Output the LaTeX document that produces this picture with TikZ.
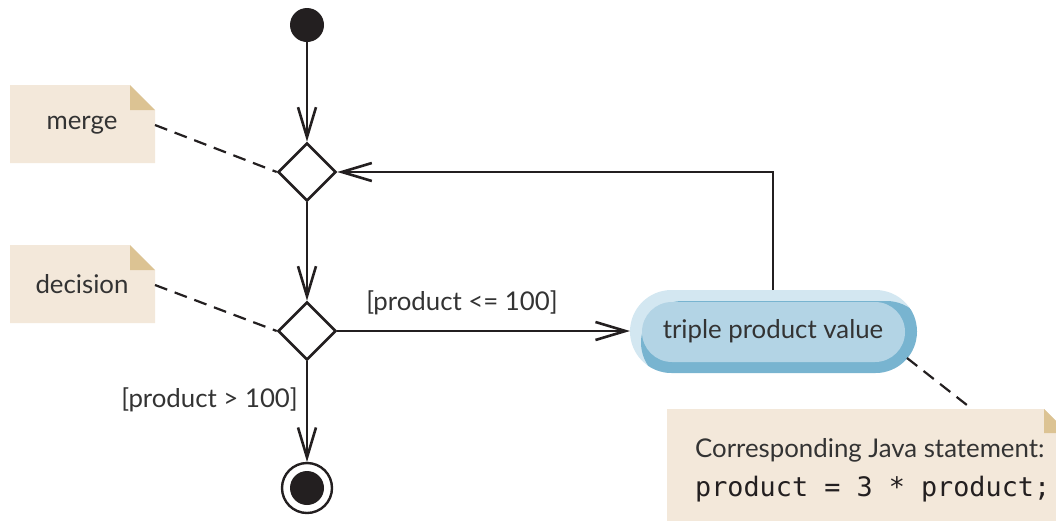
\documentclass[tikz,border=0pt]{standalone}
\usepackage{fontspec}
\setmainfont{Lato}
\newfontfamily\codefont{DejaVu Sans Mono}
\usetikzlibrary{arrows.meta,shapes.geometric}
\definecolor{ink}{HTML}{231F20}
\definecolor{txt}{HTML}{333333}
\definecolor{notebg}{HTML}{F3E8DA}
\definecolor{notefold}{HTML}{DCC393}
\definecolor{pilllight}{HTML}{D3E7F1}
\definecolor{pilldark}{HTML}{78B4D0}
\definecolor{pillmid}{HTML}{B3D4E5}
\tikzset{
  flow/.style={line width=2.6pt, draw=ink},
  arr/.style={flow, -{Straight Barb[length=30pt,width=18pt,line width=2.6pt]}},
  anno/.style={line width=2.2pt, draw=ink, dash pattern=on 13pt off 8pt},
  dia/.style={diamond, draw=ink, line width=2.6pt, minimum width=58pt, minimum height=58pt, inner sep=0pt},
  lbl/.style={font=\fontsize{25.8}{30}\selectfont, text=txt, inner sep=0pt},
}
\begin{document}
\begin{tikzpicture}[x=1pt,y=-1pt]
\useasboundingbox (0,0) rectangle (1056,520);
\clip (0,0) rectangle (1056,520);
% notes
\fill[notebg] (10,85) -- (130,85) -- (155,110) -- (155,163) -- (10,163) -- cycle;
\fill[notefold] (130,85) -- (155,110) -- (130,110) -- cycle;
\node[lbl] (merge) at (82,125) {merge};
\coordinate (mergeR) at (155,125);
\fill[notebg] (10,245) -- (130,245) -- (155,270) -- (155,323) -- (10,323) -- cycle;
\fill[notefold] (130,245) -- (155,270) -- (130,270) -- cycle;
\node[lbl] (decision) at (82,284) {decision};
\coordinate (decR) at (155,285);
\fill[notebg] (667,409) -- (1044,409) -- (1068,433) -- (1068,530) -- (667,530) -- cycle;
\fill[notefold] (1044,409) -- (1068,433) -- (1044,433) -- cycle;
\node[lbl, anchor=base west] (java1) at (695,457) {Corresponding Java statement:};
\node[font=\codefont\fontsize{26.8}{30}\selectfont, text=ink, inner sep=0pt, anchor=base west] (java2) at (695,496) {product = 3 * product;};
\coordinate (javaT) at (972,409);
% start, diamonds, end
\fill[ink] (307,25) circle (17);
\coordinate (startB) at (307,42);
\node[dia] (mg) at (307,172) {};
\node[dia] (dc) at (307,331) {};
\draw[ink, line width=2.4pt] (307,488) circle (25);
\fill[ink] (307,488) circle (17);
\coordinate (endT) at (307,462);
% action pill
\begin{scope}
\clip[rounded corners=41.5] (630,290) rectangle (917,373);
\fill[pilllight] (630,290) rectangle (917,373);
\fill[pilldark, rounded corners=41.5] (641,301) rectangle (928,384);
\end{scope}
\fill[pillmid, rounded corners=30] (642,302) rectangle (905,362);
\node[lbl] (act) at (773,331) {triple product value};
\coordinate (actL) at (630,331);
\coordinate (actT) at (773,290);
\coordinate (actBR) at (907,358);
% connectors
\draw[arr] (startB) -- (mg.north);
\draw[arr] (mg.south) -- (dc.north);
\draw[arr] (dc.south) -- (endT);
\draw[arr] (dc.east) -- (actL);
\node[lbl] (le) at (462,303) {[product <= 100]};
\draw[arr] (actT) |- (mg.east);
\node[lbl, anchor=east] (gt) at (298,400) {[product > 100]};
\draw[anno] (mergeR) -- (mg.west);
\draw[anno] (decR) -- (dc.west);
\draw[anno] (actBR) -- (javaT);
\end{tikzpicture}
\end{document}
